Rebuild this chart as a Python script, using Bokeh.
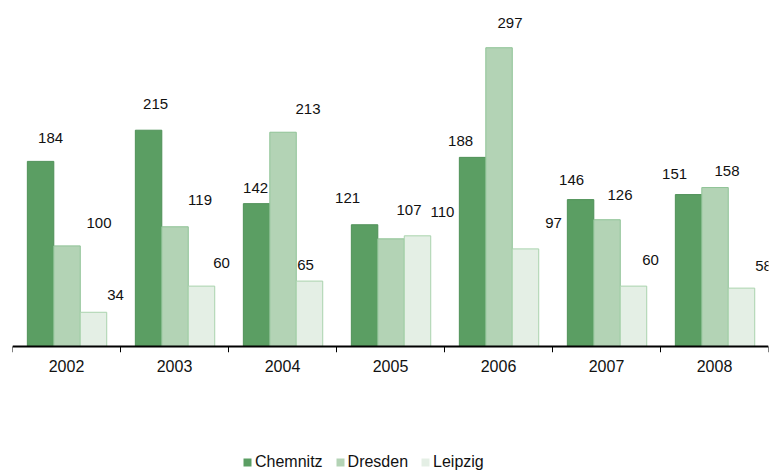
from bokeh.plotting import figure
from bokeh.models import ColumnDataSource, Range1d, Legend, LegendItem
from bokeh.transform import dodge
from bokeh.layouts import column
from bokeh.core.properties import value
from bokeh.embed import file_html
from bokeh.resources import INLINE

years = ["2002", "2003", "2004", "2005", "2006", "2007", "2008"]
chemnitz = [184, 215, 142, 121, 188, 146, 151]
dresden = [100, 119, 213, 107, 297, 126, 158]
leipzig = [34, 60, 65, 110, 97, 60, 58]
series_names = ["Chemnitz", "Dresden", "Leipzig"]

# label placement offsets (screen px) relative to each bar's top centre
chem_dx = [10, 7, -1, -17, -12, -9, -14]
chem_dy = [-23, -26, -16, -27, -16, -20, -21]
dres_dx = [32, 25, 25, 18, 11, 13, 12]
dres_dy = [-23, -27, -23, -29, -25, -25, -17]
leip_dx = [22, 20, -4, 25, 28, 17, 22]
leip_dy = [-17, -23, -16, -24, -26, -26, -22]

FONT = "Liberation Sans"
FILLS = ["#5b9e63", "#b3d3b5", "#e4efe5"]
LINES = ["#4f9158", "#8fc396", "#a9d3ad"]

src = ColumnDataSource(dict(
    year=years, chem=chemnitz, dres=dresden, leip=leipzig,
    chem_lbl=[str(v) for v in chemnitz],
    dres_lbl=[str(v) for v in dresden],
    leip_lbl=[str(v) for v in leipzig],
    cdx=chem_dx, cdy=chem_dy, ddx=dres_dx, ddy=dres_dy, ldx=leip_dx, ldy=leip_dy,
))

p = figure(x_range=years, y_range=Range1d(-6, 336), width=771, height=440,
           output_backend="svg", toolbar_location=None,
           min_border_left=12, min_border_right=3, min_border_top=8, min_border_bottom=88)
p.outline_line_color = None
p.grid.visible = False
p.yaxis.visible = False

xa = p.xaxis[0]
xa.axis_line_color = None
xa.major_tick_line_color = None
xa.minor_tick_line_color = None
xa.major_tick_out = 0
xa.major_tick_in = 0
xa.major_label_standoff = 7
xa.major_label_text_font = FONT
xa.major_label_text_font_size = "16px"
xa.major_label_text_color = "#111111"

w = 0.245
cols = [("chem", "cdx", "cdy", "chem_lbl"), ("dres", "ddx", "ddy", "dres_lbl"),
        ("leip", "ldx", "ldy", "leip_lbl")]
offs = [-w + 0.005, 0.005, w + 0.005]
for (col, dxc, dyc, lbl), off, fill, line in zip(cols, offs, FILLS, LINES):
    p.vbar(x=dodge("year", off, range=p.x_range), top=col, bottom=0, width=w,
           source=src, fill_color=fill, line_color=line, line_width=1)
    p.text(x=dodge("year", off, range=p.x_range), y=col, text=lbl,
           x_offset=dxc, y_offset=dyc, source=src,
           text_font=value(FONT), text_font_size="15px", text_color="#111111",
           text_align="center", text_baseline="middle")

# baseline and boundary ticks
n = len(years)
p.segment(x0=[0], y0=[0], x1=[n], y1=[0], line_color="black", line_width=2)
p.segment(x0=list(range(n + 1)), y0=[0] * (n + 1), x1=list(range(n + 1)), y1=[-6] * (n + 1),
          line_color="black", line_width=1)

# legend strip (swatch renderers sit outside the visible range)
lg = figure(width=771, height=32, x_range=Range1d(0, 1), y_range=Range1d(0, 1),
            output_backend="svg", toolbar_location=None,
            min_border_left=0, min_border_right=0, min_border_top=0, min_border_bottom=0)
lg.axis.visible = False
lg.grid.visible = False
lg.outline_line_color = None
items = []
for name, fill, line in zip(series_names, FILLS, LINES):
    r = lg.vbar(x=[-10], top=[-10], bottom=[-11], width=0.1, fill_color=fill, line_color=None)
    items.append(LegendItem(label=name, renderers=[r]))
legend = Legend(items=items, orientation="horizontal", location=(230, 1),
                glyph_width=10, glyph_height=10, label_standoff=3, spacing=12,
                padding=0, margin=0, border_line_color=None, background_fill_alpha=0,
                label_text_font=FONT, label_text_font_size="16px", label_text_color="#111111",
                label_height=16)
lg.add_layout(legend, "center")

layout = column(p, lg, spacing=0)
open("out.html", "w").write(file_html(layout, INLINE))
